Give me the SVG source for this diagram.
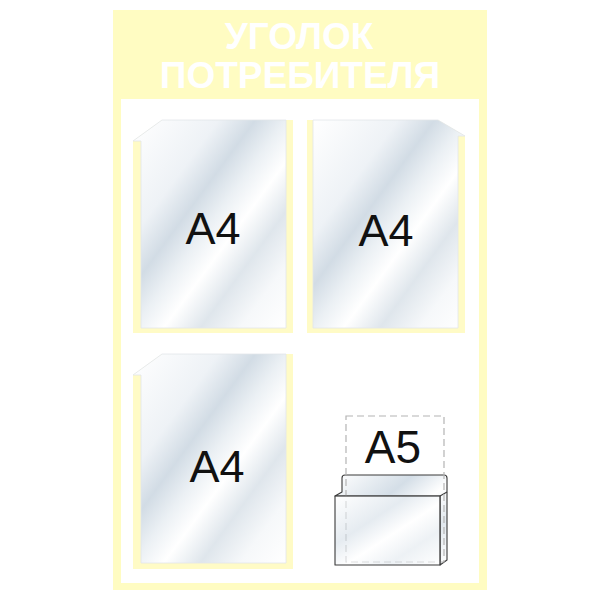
<svg xmlns="http://www.w3.org/2000/svg" width="600" height="600" viewBox="0 0 600 600">
<defs>
<linearGradient id="clear" x1="0" y1="0" x2="1" y2="1">
<stop offset="0" stop-color="#ffffff"/>
<stop offset="0.28" stop-color="#eef2f6"/>
<stop offset="0.4" stop-color="#d2dce5"/>
<stop offset="0.5" stop-color="#ebf0f4"/>
<stop offset="0.6" stop-color="#ffffff"/>
<stop offset="0.72" stop-color="#dfe6ec"/>
<stop offset="0.85" stop-color="#f6f8fa"/>
<stop offset="1" stop-color="#ffffff"/>
</linearGradient>
<linearGradient id="clear2" x1="0" y1="0" x2="1" y2="1">
<stop offset="0" stop-color="#ffffff"/>
<stop offset="0.35" stop-color="#d4dee7"/>
<stop offset="0.55" stop-color="#ffffff"/>
<stop offset="0.75" stop-color="#e1e8ee"/>
<stop offset="1" stop-color="#ffffff"/>
</linearGradient>
</defs>
<style>
.board{fill:#fffcc2}
.inner{fill:#ffffff}
.back{fill:#fffbc6}
.sheet{fill:url(#clear);stroke:#e2e6ea;stroke-width:0.8}
.title{font-family:"Liberation Sans",Arial,sans-serif;font-weight:bold;font-size:37px;fill:#ffffff;text-anchor:middle}
.lbl{font-family:"Liberation Sans",Arial,sans-serif;font-size:45px;fill:#111111;text-anchor:middle}
.dash{fill:none;stroke:#b4b4b4;stroke-width:1.2;stroke-dasharray:7 4}
.pk{fill:url(#clear2);stroke:#3a3a3a;stroke-width:1.1;stroke-linejoin:round}
</style>
<g id="board">
<rect class="board" x="113" y="10" width="374" height="580"/>
<rect class="inner" x="121" y="99" width="358" height="484"/>
<text class="title" x="299" y="49">УГОЛОК</text>
<text class="title" x="300" y="88">ПОТРЕБИТЕЛЯ</text>
</g>
<g id="pocket1">
<polygon class="back" points="133,141 162,120 293,120 293,333 133,333"/>
<polygon class="sheet" points="133,141 162,120 286,120 286,328 141,328 141,141"/>
<text class="lbl" x="213" y="244">A4</text>
</g>
<g id="pocket2">
<polygon class="back" points="307,120 438,120 465,136 465,333 307,333"/>
<polygon class="sheet" points="313,120 438,120 465,136 458,136 458,328 313,328"/>
<text class="lbl" x="386" y="246">A4</text>
</g>
<g id="pocket3">
<polygon class="back" points="133,375 162,354 293,354 293,569 133,569"/>
<polygon class="sheet" points="133,375 162,354 286,354 286,563 141,563 141,375"/>
<text class="lbl" x="217" y="482">A4</text>
</g>
<g id="pocketA5">
<path class="pk" d="M342,492 L342,478 Q342,475 345,475 L444,475 Q447,475 447,478 L447,560 L440,565 L440,496 L335,496 Z"/>
<path class="pk" d="M440,496 L447,492" fill="none"/>
<rect class="dash" x="346" y="416" width="98" height="146"/>
<rect class="pk" x="335" y="496" width="105" height="69" fill-opacity="0.6"/>
<text class="lbl" x="393" y="463" style="font-size:46px">A5</text>
</g>
</svg>
